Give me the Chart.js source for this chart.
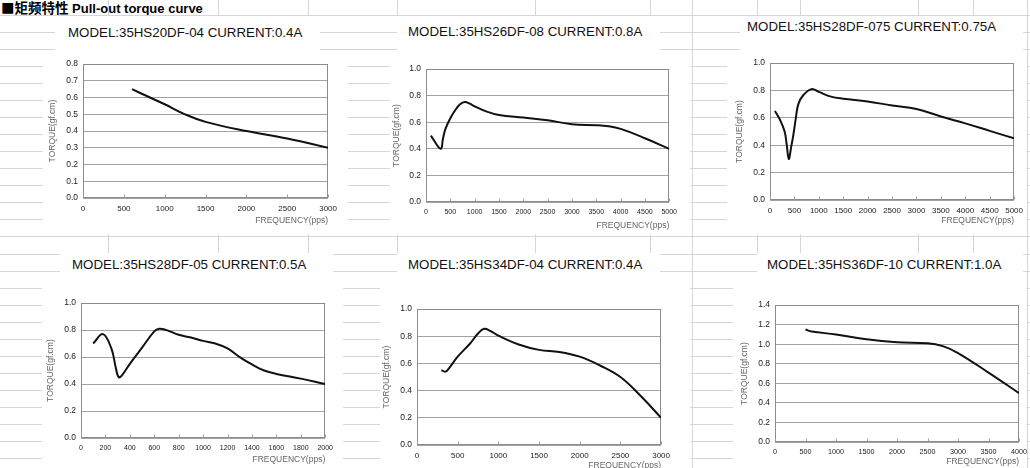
<!DOCTYPE html>
<html>
<head>
<meta charset="utf-8">
<script src="https://cdn.jsdelivr.net/npm/chart.js@4.4.0/dist/chart.umd.min.js"></script>
<style>
  html, body { margin: 0; padding: 0; }
  body {
    width: 1030px; height: 468px; overflow: hidden; position: relative;
    background: #fff; font-family: Arial, 'Liberation Sans', sans-serif;
  }
  .hl { position: absolute; left: 0; width: 1030px; height: 1px; background: #d6d6d6; }
  .vl { position: absolute; top: 0; width: 1px; height: 468px; background: #d6d6d6; }
  .panel { position: absolute; background: #fff; }
  .head {
    position: absolute; left: 0; top: -1px; padding: 0 2px 0 1px; background: #fff;
    font-size: 13px; font-weight: bold; line-height: 16px; white-space: nowrap;
  }
  .head .cjk { font-family: 'Noto Sans CJK SC', sans-serif; font-size: 13.5px; }
  .title { position: absolute; font-size: 13.3px; line-height: 16px; color: #111; white-space: nowrap; }
  .box { position: absolute; }
</style>
</head>
<body>
<div class="head"><span class="cjk">■矩频特性</span> Pull-out torque curve</div>
<div id="sheet"></div>

<script>
  // ---- DATA ----
  const freq1 = [600, 800, 1000, 1250, 1500, 2000, 2500, 3000];
  const torque1 = [0.65, 0.605, 0.56, 0.50, 0.455, 0.40, 0.355, 0.30];

  const freq2 = [100, 300, 350, 400, 500, 600, 700, 800, 900, 1000, 1250, 1500, 2000, 2500, 3000, 3500, 3750, 4000, 4500, 5000];
  const torque2 = [0.50, 0.40, 0.48, 0.55, 0.63, 0.69, 0.735, 0.752, 0.74, 0.72, 0.68, 0.655, 0.635, 0.615, 0.585, 0.578, 0.57, 0.55, 0.48, 0.40];

  const freq3 = [100, 200, 300, 340, 385, 430, 480, 530, 580, 680, 850, 1000, 1250, 1500, 2000, 2500, 3000, 3500, 4000, 4500, 5000];
  const torque3 = [0.65, 0.59, 0.50, 0.41, 0.30, 0.38, 0.48, 0.60, 0.70, 0.765, 0.81, 0.79, 0.755, 0.74, 0.72, 0.69, 0.665, 0.61, 0.56, 0.505, 0.45];

  const freq4 = [100, 180, 250, 285, 310, 340, 400, 500, 600, 640, 700, 800, 900, 1000, 1100, 1200, 1300, 1400, 1500, 1600, 1800, 2000];
  const torque4 = [0.70, 0.77, 0.66, 0.52, 0.45, 0.47, 0.55, 0.67, 0.79, 0.81, 0.80, 0.765, 0.745, 0.72, 0.70, 0.665, 0.60, 0.545, 0.50, 0.475, 0.44, 0.40];

  const freq5 = [300, 350, 400, 500, 650, 750, 825, 900, 1000, 1250, 1500, 1750, 2000, 2250, 2500, 2750, 3000];
  const torque5 = [0.55, 0.54, 0.57, 0.65, 0.745, 0.82, 0.855, 0.84, 0.805, 0.74, 0.70, 0.685, 0.65, 0.585, 0.50, 0.36, 0.20];

  const freq6 = [500, 600, 1000, 1500, 2000, 2500, 2750, 3000, 3500, 4000];
  const torque6 = [1.15, 1.13, 1.10, 1.05, 1.02, 1.01, 0.98, 0.91, 0.71, 0.50];

  const titles = [
    'MODEL:35HS20DF-04 CURRENT:0.4A',
    'MODEL:35HS26DF-08 CURRENT:0.8A',
    'MODEL:35HS28DF-075 CURRENT:0.75A',
    'MODEL:35HS28DF-05 CURRENT:0.5A',
    'MODEL:35HS34DF-04 CURRENT:0.4A',
    'MODEL:35HS36DF-10 CURRENT:1.0A'
  ];

  const xLabel = 'FREQUENCY(pps)';
  const yLabel = 'TORQUE(gf.cm)';

  // ---- LAYOUT ----
  // plot = [left, top, right, bottom] of the plot frame, ytx = y title centre x, xty = x title centre y
  const charts = [
    { freq: freq1, torque: torque1, xMax: 3000, xStep: 500, yMax: 0.8, yStep: 0.1, plot: [83, 62, 331, 198], ytx: 53, xty: 221, tx: 68, ty: 33, xFont: 8 },
    { freq: freq2, torque: torque2, xMax: 5000, xStep: 500, yMax: 1.0, yStep: 0.2, plot: [426, 67, 671, 202], ytx: 397, xty: 226, tx: 408, ty: 32, xFont: 7 },
    { freq: freq3, torque: torque3, xMax: 5000, xStep: 500, yMax: 1.0, yStep: 0.2, plot: [770, 61, 1017, 200], ytx: 740, xty: 221, tx: 747, ty: 27, xFont: 8 },
    { freq: freq4, torque: torque4, xMax: 2000, xStep: 200, yMax: 1.0, yStep: 0.2, plot: [81, 301, 327, 438], ytx: 51, xty: 460, tx: 72, ty: 265, xFont: 7 },
    { freq: freq5, torque: torque5, xMax: 3000, xStep: 500, yMax: 1.0, yStep: 0.2, plot: [417, 307, 664, 445], ytx: 387, xty: 466, tx: 408, ty: 265, xFont: 8 },
    { freq: freq6, torque: torque6, xMax: 4000, xStep: 500, yMax: 1.4, yStep: 0.2, plot: [775, 303, 1021, 442], ytx: 745, xty: 462, tx: 767, ty: 265, xFont: 7.2 }
  ];

  // white areas over the sheet grid: [x0, y0, x1, y1]
  const panels = [
    [55, 16, 320, 55], [43, 55, 348, 234],
    [397, 16, 660, 55], [390, 55, 690, 234],
    [740, 16, 1023, 55], [727, 55, 1027, 234],
    [60, 253, 333, 280], [42, 280, 343, 468],
    [397, 253, 660, 280], [380, 280, 690, 468],
    [757, 253, 1023, 280], [733, 280, 1027, 468]
  ];
  const vLines = [108, 218, 308, 397, 535, 650, 692, 757, 800, 918, 973, 1027];

  // ---- SHEET BACKGROUND ----
  const sheet = document.getElementById('sheet');
  for (let k = 0; k < 28; k++) {
    const d = document.createElement('div');
    d.className = 'hl';
    d.style.top = Math.round(14.8 + 17.05 * k) + 'px';
    sheet.appendChild(d);
  }
  vLines.forEach(x => {
    const d = document.createElement('div');
    d.className = 'vl';
    d.style.left = x + 'px';
    sheet.appendChild(d);
  });
  panels.forEach(p => {
    const d = document.createElement('div');
    d.className = 'panel';
    d.style.left = p[0] + 'px';
    d.style.top = p[1] + 'px';
    d.style.width = (p[2] - p[0]) + 'px';
    d.style.height = (p[3] - p[1]) + 'px';
    sheet.appendChild(d);
  });

  // ---- FRAME PLUGIN ----
  const frame = {
    id: 'frame',
    beforeDatasetsDraw(chart) {
      const a = chart.chartArea;
      const ctx = chart.ctx;
      const l = Math.round(a.left) + 0.5, t = Math.round(a.top) + 0.5;
      const r = Math.round(a.right) - 0.5, b = Math.round(a.bottom) - 0.5;
      ctx.save();
      ctx.strokeStyle = '#8c8c8c';
      ctx.lineWidth = 1;
      ctx.strokeRect(l, t, r - l, b - t);
      // small inner tick marks on the frequency axis
      const xs = chart.scales.x;
      ctx.strokeStyle = '#a0a0a0';
      ctx.beginPath();
      xs.ticks.forEach(tk => {
        const px = Math.round(xs.getPixelForValue(tk.value)) + 0.5;
        ctx.moveTo(px, b);
        ctx.lineTo(px, b - 3);
      });
      ctx.stroke();
      ctx.restore();
    }
  };

  const family = "Arial, 'Liberation Sans', sans-serif";

  // ---- CHARTS ----
  charts.forEach((c, i) => {
    const [L, T, R, B] = c.plot;
    const left = Math.round(c.ytx - 5);
    const top = T - 8;
    const width = R + 12 - left;
    const height = Math.round(c.xty + 5) - top;
    const yAxisW = L - left;
    const xAxisH = height - (B - top);

    const title = document.createElement('div');
    title.className = 'title';
    title.textContent = titles[i];
    title.style.left = c.tx + 'px';
    title.style.top = (c.ty - 8) + 'px';
    document.body.appendChild(title);

    const box = document.createElement('div');
    box.className = 'box';
    box.style.left = left + 'px';
    box.style.top = top + 'px';
    const cv = document.createElement('canvas');
    cv.width = width;
    cv.height = height;
    cv.style.width = width + 'px';
    cv.style.height = height + 'px';
    box.appendChild(cv);
    document.body.appendChild(box);

    new Chart(cv.getContext('2d'), {
      type: 'line',
      data: {
        datasets: [{
          data: c.freq.map((f, j) => ({ x: f, y: c.torque[j] })),
          borderColor: '#111',
          borderWidth: 2,
          pointRadius: 0,
          fill: false,
          tension: 0.4
        }]
      },
      plugins: [frame],
      options: {
        responsive: false,
        animation: false,
        layout: { padding: { top: 8, right: 12, left: 0, bottom: 0 } },
        plugins: { legend: { display: false }, tooltip: { enabled: false } },
        scales: {
          x: {
            type: 'linear', min: 0, max: c.xMax,
            grid: { display: false, drawTicks: false },
            border: { display: false },
            ticks: {
              stepSize: c.xStep, autoSkip: false, maxRotation: 0, padding: 6,
              color: '#222', font: { family, size: c.xFont },
              callback: v => String(v)
            },
            title: { display: true, text: xLabel, align: 'end', color: '#666', padding: 0, font: { family, size: 8.5 } },
            afterFit: s => { s.height = xAxisH; }
          },
          y: {
            min: 0, max: c.yMax,
            grid: { color: '#a3a3a3', drawTicks: false },
            border: { display: false },
            ticks: {
              stepSize: c.yStep, padding: 5,
              color: '#222', font: { family, size: 8.5 },
              callback: v => v.toFixed(1)
            },
            title: { display: true, text: yLabel, color: '#666', padding: 0, font: { family, size: 8.5 } },
            afterFit: s => { s.width = yAxisW; }
          }
        }
      }
    });
  });
</script>
</body>
</html>
